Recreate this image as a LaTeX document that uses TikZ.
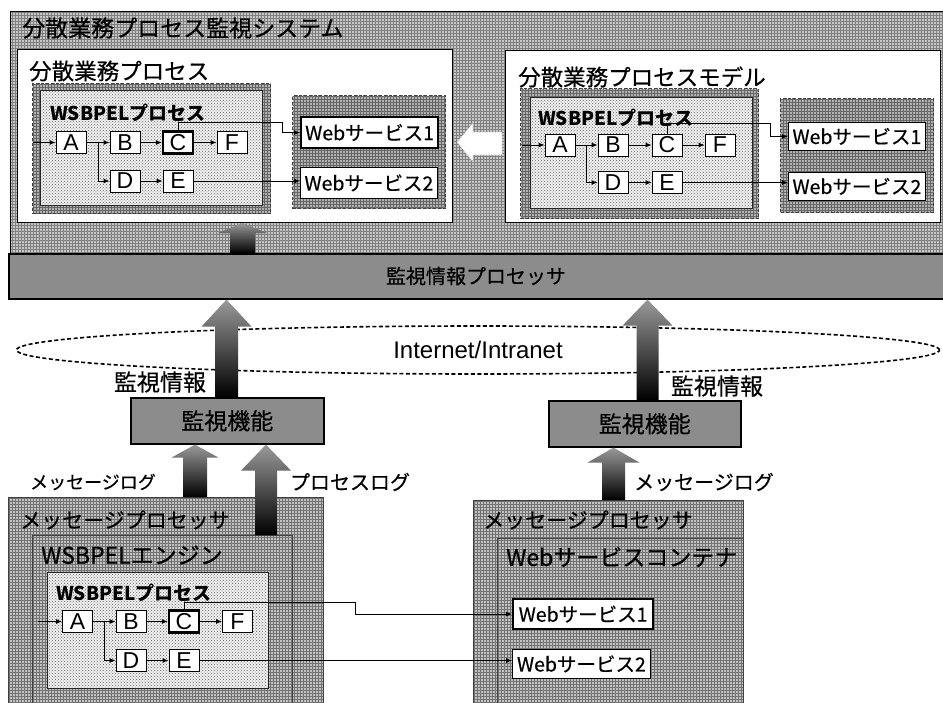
\documentclass[tikz,border=0pt]{standalone}
\usepackage{fontspec}
\setmainfont{Noto Sans CJK JP}[UprightFeatures={FakeBold=0.5}]
\newfontfamily\arialf{Liberation Sans}
\usetikzlibrary{patterns,calc,shapes.geometric,arrows.meta}
\newcommand\fsz[1]{\fontsize{#1pt}{#1pt}\selectfont}
% box node from corner to corner
\newcommand\bx[7]{\node[#2, anchor=north west, minimum width={(#5)-(#3)}, minimum height={(#6)-(#4)}, inner sep=0pt] (#1) at (#3,#4) {#7};}
% fat shaded up arrow: x, bottom anchor, top anchor, shaft half, head half, head length
\newcommand\fatup[6]{\shade[fat] let \p1=(#2), \p2=(#3) in
 (#1pt-#4pt,\y1) -- (#1pt+#4pt,\y1) -- (#1pt+#4pt,\y2-#6pt) -- (#1pt+#5pt,\y2-#6pt) -- (#1pt,\y2) -- (#1pt-#5pt,\y2-#6pt) -- (#1pt-#4pt,\y2-#6pt) -- cycle;}
\begin{document}
\begin{tikzpicture}[x=1pt,y=-1pt,
 sysbg/.style={draw=black, line width=1.2pt, preaction={fill=black!22}, pattern=grid, pattern color=black!50},
 wbox/.style={draw=black, line width=1pt, fill=white},
 dfr/.style={draw=black!75, dash pattern=on 3pt off 2pt, line width=1pt, preaction={fill=black!30}, pattern=grid, pattern color=black!60},
 stip/.style={draw=black!85, line width=1pt, preaction={fill=black!6}, pattern=crosshatch dots, pattern color=black!60},
 act/.style={draw=black, line width=0.8pt, fill=white, minimum width=30pt, minimum height=22pt, inner sep=0pt, font=\arialf\fsz{23}},
 actb/.style={act, line width=2.2pt},
 ws/.style={draw=black, line width=0.8pt, fill=white, font=\fsz{19.5}},
 wsb/.style={ws, line width=2.2pt},
 gbox/.style={draw=black, line width=1.6pt, fill=black!45},
 mpbg/.style={draw=black!75, line width=0.8pt, preaction={fill=black!24}, pattern=grid, pattern color=black!55},
 ln/.style={draw=black, line width=1pt, -{Latex[length=6pt,width=5pt]}},
 fat/.style={top color=black!40, bottom color=black},
 ttl/.style={anchor=west, inner sep=0pt},
 lbl/.style={inner sep=0pt}
]
\useasboundingbox (0,0) rectangle (943,702);
\clip (0,0) rectangle (943,702);
\fill[white] (0,0) rectangle (943,702);

% ===== system =====
\bx{sys}{sysbg}{10}{11}{948}{253}{}
\node[ttl, font=\fsz{23}] (systitle) at (22,28) {分散業務プロセス監視システム};

% left: running process
\bx{LB}{wbox}{17}{49}{452}{222}{}
\node[ttl, font=\fsz{22.5}] (LBt) at (29,71) {分散業務プロセス};
\bx{LF}{dfr}{32}{83}{270}{213}{}
\bx{LS}{stip}{40}{90}{262}{205}{}
\node[ttl, font=\bfseries\fsz{19}] (LSt) at (50,113) {WSBPELプロセス};
\node[act] (a1) at (71,142.5) {A};
\node[act] (b1) at (125,142.5) {B};
\node[actb] (c1) at (178,142.5) {C};
\node[act] (f1) at (232,142.5) {F};
\node[act] (d1) at (125,181) {D};
\node[act] (e1) at (178,181) {E};
\bx{LW}{dfr}{292}{95}{445}{208}{}
\bx{w11}{wsb}{300}{116}{437}{147}{Webサービス1}
\bx{w12}{ws}{300}{167}{437}{198}{Webサービス2}
\coordinate (in1) at (33,142.5);
\coordinate (k1) at (282,122);
\draw[ln] (in1) -- (a1);
\draw[ln] (a1) -- (b1);
\draw[ln] ($(a1.east)!0.5!(b1.west)$) |- (d1);
\draw[ln] (b1) -- (c1);
\draw[ln] (c1) -- (f1);
\draw[ln] (d1) -- (e1);
\draw[ln] (c1.north) |- (k1) |- (w11.west);
\draw[ln] (e1.east) -- (e1.east -| w12.west);

% right: model
\bx{RB}{wbox}{505}{50}{940}{222}{}
\node[ttl, font=\fsz{22.5}] (RBt) at (518,77) {分散業務プロセスモデル};
\bx{RF}{dfr}{520}{88}{758}{218}{}
\bx{RS}{stip}{530}{97}{752}{208}{}
\node[ttl, font=\bfseries\fsz{19}] (RSt) at (538,118) {WSBPELプロセス};
\node[act] (a2) at (560,145) {A};
\node[act] (b2) at (613,145) {B};
\node[act] (c2) at (667,145) {C};
\node[act] (f2) at (720,145) {F};
\node[act] (d2) at (613,182.5) {D};
\node[act] (e2) at (667,182.5) {E};
\bx{RW}{dfr}{780}{98}{933}{212}{}
\bx{w21}{ws}{788}{122}{925}{150}{Webサービス1}
\bx{w22}{ws}{788}{172}{925}{200}{Webサービス2}
\coordinate (in2) at (522,145);
\coordinate (k2) at (770,123);
\draw[ln] (in2) -- (a2);
\draw[ln] (a2) -- (b2);
\draw[ln] ($(a2.east)!0.5!(b2.west)$) |- (d2);
\draw[ln] (b2) -- (c2);
\draw[ln] (c2) -- (f2);
\draw[ln] (d2) -- (e2);
\draw[ln] (c2.north) |- (k2) |- (w21.west);
\draw[ln] (e2.east) -- (e2.east -| w22.west);

% white arrow model -> process
\filldraw[fill=white, draw=black!35, densely dotted, line width=0.6pt]
 (457,142) -- (473,123) -- (473,132) -- (502,132) -- (502,155) -- (473,155) -- (473,162) -- cycle;

% ===== monitoring info processor bar =====
\bx{bar}{gbox}{8}{253}{944}{298}{}
\node[lbl, font=\fsz{20}] (bart) at (476,276) {監視情報プロセッサ};
\fatup{242.5}{bar.north}{LB.south}{12.5}{24.5}{10}

% ===== network =====
\node[ellipse, draw=black, dash pattern=on 4pt off 2.5pt, line width=1.6pt, minimum width=923pt, minimum height=48pt, inner sep=0pt, font=\arialf\fsz{24}] (net) at (478,350) {Internet/Intranet};

% ===== monitors =====
\bx{mon1}{gbox}{130}{397}{323}{443}{\fsz{23}監視機能}
\bx{mon2}{gbox}{548}{400}{740}{446}{\fsz{23}監視機能}
\fatup{226.5}{mon1.north}{bar.south}{11.5}{25}{27}
\fatup{647.5}{mon2.north}{bar.south}{11}{25}{26}
\node[lbl, font=\fsz{23}] (mi1) at (160,382) {監視情報};
\node[lbl, font=\fsz{23}] (mi2) at (717,386) {監視情報};

% ===== bottom left: message processor / engine =====
\bx{MPL}{mpbg}{8}{497}{323}{712}{}
\node[ttl, font=\fsz{21}] (MPLt) at (20,520) {メッセージプロセッサ};
\bx{EN}{mpbg}{32}{535}{292}{712}{}
\node[ttl, font=\fsz{23}] (ENt) at (41,555) {WSBPELエンジン};
\bx{SB}{stip}{47}{572}{268}{688}{}
\node[ttl, font=\bfseries\fsz{19}] (SBt) at (56,593) {WSBPELプロセス};
\node[act] (a3) at (77.5,621.5) {A};
\node[act] (b3) at (131,621.5) {B};
\node[actb] (c3) at (184,621.5) {C};
\node[act] (f3) at (237.5,621.5) {F};
\node[act] (d3) at (131,660.5) {D};
\node[act] (e3) at (184,660.5) {E};

% ===== bottom right: message processor / container =====
\bx{MPR}{mpbg}{473}{500}{743}{712}{}
\node[ttl, font=\fsz{21}] (MPRt) at (483,520) {メッセージプロセッサ};
\bx{WC}{mpbg}{497}{538}{743}{712}{}
\node[ttl, font=\fsz{23}] (WCt) at (506,557) {Webサービスコンテナ};
\bx{w31}{wsb}{512}{598}{652}{628}{Webサービス1}
\bx{w32}{ws}{512}{649}{650}{678}{Webサービス2}

\coordinate (in3) at (38,621.5);
\coordinate (k3) at (355,602);
\draw[ln] (in3) -- (a3);
\draw[ln] (a3) -- (b3);
\draw[ln] ($(a3.east)!0.5!(b3.west)$) |- (d3);
\draw[ln] (b3) -- (c3);
\draw[ln] (c3) -- (f3);
\draw[ln] (d3) -- (e3);
\draw[ln] (c3.north) |- (k3) |- (w31.west);
\draw[ln] (e3.east) -- (e3.east -| w32.west);

% log arrows
\fatup{195}{MPL.north}{mon1.south}{12}{23.5}{13}
\fatup{266}{EN.north}{mon1.south}{11}{25}{26}
\fatup{613.5}{MPR.north}{mon2.south}{11.5}{26}{15}
\node[lbl, font=\fsz{18}] (ml1) at (93,482) {メッセージログ};
\node[lbl, font=\fsz{20}] (pl1) at (350,482) {プロセスログ};
\node[lbl, font=\fsz{20}] (ml2) at (704,482) {メッセージログ};
\end{tikzpicture}
\end{document}
